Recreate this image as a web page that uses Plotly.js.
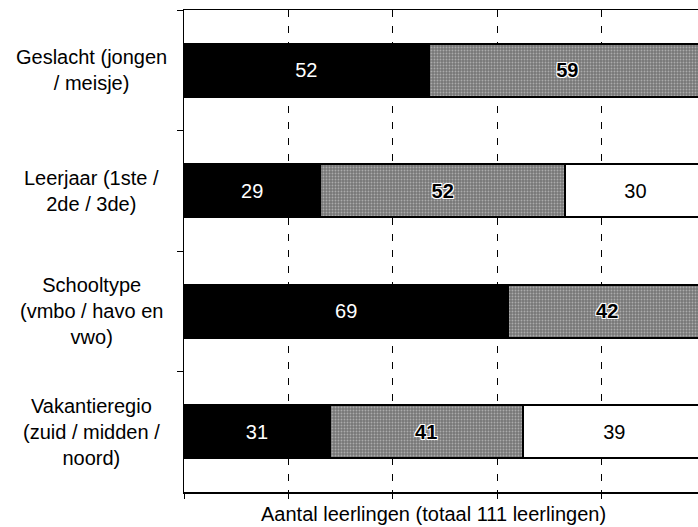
<!DOCTYPE html>
<html>
<head>
<meta charset="utf-8">
<script src="https://cdn.plot.ly/plotly-3.0.1.min.js"></script>
<style>
  html, body { margin: 0; padding: 0; overflow: hidden; background: #fff; }
  #chart { width: 712px; height: 527px; }
</style>
</head>
<body>
<div id="chart"></div>
<script>
// ---- data ----
const categories = [
  "Geslacht (jongen<br>/ meisje)",
  "Leerjaar (1ste /<br>2de / 3de)",
  "Schooltype<br>(vmbo / havo en<br>vwo)",
  "Vakantieregio<br>(zuid / midden /<br>noord)"
];
const segment1 = [52, 29, 69, 31];   // jongen / 1ste / vmbo / zuid
const segment2 = [59, 52, 42, 41];   // meisje / 2de / havo en vwo / midden
const segment3 = [null, 30, null, 39]; // 3de / noord
const totalStudents = 111;
const gridTicks = [0, 22.2, 44.4, 66.6, 88.8, 111];
const xTitle = "Aantal leerlingen (totaal 111 leerlingen)";

const FONT = "Liberation Sans, Arial, sans-serif";
const barWidth = 0.44;

const common = {
  type: "bar",
  orientation: "h",
  y: categories,
  width: barWidth,
  textposition: "inside",
  insidetextanchor: "middle",
  constraintext: "none",
  textangle: 0,
  hoverinfo: "skip",
  cliponaxis: false
};

const traces = [
  Object.assign({}, common, {
    x: segment1,
    text: segment1.map(v => v == null ? "" : String(v)),
    marker: { color: "#000000", line: { color: "#000000", width: 2 } },
    textfont: { family: FONT, size: 20, color: "#ffffff" }
  }),
  Object.assign({}, common, {
    x: segment2,
    text: segment2.map(v => v == null ? "" : String(v)),
    marker: {
      color: "#8a8a8a",
      line: { color: "#000000", width: 2 },
      pattern: { shape: ".", bgcolor: "#777777", fgcolor: "#e0e0e0", size: 3, solidity: 0.3, fillmode: "overlay" }
    },
    textfont: { family: FONT, size: 20, color: "#000000", weight: "bold",
                shadow: "1px 1px 0 #fff, -1px -1px 0 #fff, 1px -1px 0 #fff, -1px 1px 0 #fff" }
  }),
  Object.assign({}, common, {
    x: segment3,
    text: segment3.map(v => v == null ? "" : String(v)),
    marker: { color: "#ffffff", line: { color: "#000000", width: 2 } },
    textfont: { family: FONT, size: 20, color: "#000000" }
  })
];

const annotations = categories.map(c => ({
  xref: "paper", yref: "y",
  x: 0, y: c,
  xshift: -93,
  xanchor: "center", yanchor: "middle",
  align: "center",
  text: c,
  showarrow: false,
  font: { family: FONT, size: 20, color: "#000000" }
}));
annotations.push({
  xref: "paper", yref: "paper",
  x: 0.5, y: 0,
  xshift: -12, yshift: -22,
  xanchor: "center", yanchor: "middle",
  text: xTitle,
  showarrow: false,
  font: { family: FONT, size: 20, color: "#000000" }
});

const layout = {
  width: 712,
  height: 527,
  margin: { l: 184, r: 6, t: 10, b: 35 },
  paper_bgcolor: "#ffffff",
  plot_bgcolor: "#ffffff",
  barmode: "stack",
  showlegend: false,
  font: { family: FONT, size: 20, color: "#000000" },
  xaxis: {
    range: [0, totalStudents],
    tickvals: gridTicks,
    showticklabels: false,
    ticks: "outside",
    ticklen: 5,
    tickwidth: 1,
    tickcolor: "#000",
    showgrid: true,
    gridcolor: "#000000",
    gridwidth: 1,
    griddash: "7px,9px",
    zeroline: false,
    showline: true,
    linecolor: "#000000",
    linewidth: 1.5,
    mirror: true
  },
  yaxis: {
    type: "category",
    autorange: "reversed",
    showticklabels: false,
    ticks: "outside",
    tickson: "boundaries",
    ticklen: 6,
    tickwidth: 1,
    tickcolor: "#000",
    showgrid: false,
    zeroline: false,
    showline: true,
    linecolor: "#000000",
    linewidth: 1.5,
    mirror: true
  },
  annotations: annotations
};

Plotly.newPlot("chart", traces, layout, { displayModeBar: false, staticPlot: true });
</script>
</body>
</html>
